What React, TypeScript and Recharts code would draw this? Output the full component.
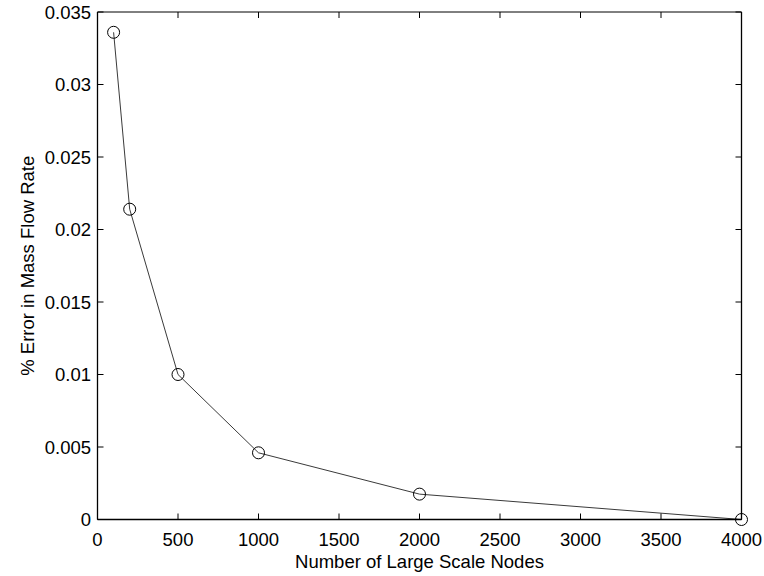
import { LineChart, Line, XAxis, YAxis } from 'recharts';

// grid sizes tested and the resulting mass flow error
const nodes = [100, 200, 500, 1000, 2000, 4000];
const errorPct = [0.0336, 0.0214, 0.01, 0.0046, 0.00175, 0];

const xTicks = [0, 500, 1000, 1500, 2000, 2500, 3000, 3500, 4000];
const yTicks = [0, 0.005, 0.01, 0.015, 0.02, 0.025, 0.03, 0.035];

const data = nodes.map((n, i) => ({ nodes: n, error: errorPct[i] }));

const FONT = '"Liberation Sans", Arial, sans-serif';
const FS = 18.5;
const TICK = 6;

// ticks point into the plot box, labels sit outside
const BottomTick = ({ x, y, payload }: any) => <g>
    <line x1={x} y1={y} x2={x} y2={y - TICK} stroke="#000" />
    <text x={x} y={y + 26.5} textAnchor="middle" fontSize={FS} fontFamily={FONT} fill="#000">{payload.value}</text>
  </g>;

const LeftTick = ({ x, y, payload }: any) => <g>
    <line x1={x} y1={y} x2={x + TICK} y2={y} stroke="#000" />
    <text x={x - 6.5} y={y + 6.5} textAnchor="end" fontSize={FS} fontFamily={FONT} fill="#000">{payload.value}</text>
  </g>;

const TopTick = ({ x, y }: any) => <line x1={x} y1={y} x2={x} y2={y + TICK} stroke="#000" />;

const RightTick = ({ x, y }: any) => <line x1={x} y1={y} x2={x - TICK} y2={y} stroke="#000" />;

const App = () => {
  return <div style={{ position: 'absolute', left: 0, top: 0, width: 764, height: 576, background: '#fff' }}>
      <LineChart width={764} height={576} data={data} margin={{ top: 11, right: 21.5, bottom: 0, left: 0 }}>
        <XAxis dataKey="nodes" type="number" domain={[0, 4000]} ticks={xTicks}
          height={56.5} tickSize={0} tickMargin={0} tick={<BottomTick />}
          axisLine={{ stroke: '#000', strokeWidth: 1.5 }}
          label={{
          content: ({ viewBox }: any) => <text x={viewBox.x + viewBox.width / 2} y={viewBox.y + 48.5} textAnchor="middle" fontSize={FS} fontFamily={FONT} fill="#000">
                Number of Large Scale Nodes
              </text>
        }} />
        {/* mirrored axes close the box on the top and right */}
        <XAxis xAxisId="top" dataKey="nodes" orientation="top" type="number" domain={[0, 4000]} ticks={xTicks}
          height={1} tickSize={0} tickMargin={0} tick={<TopTick />}
          axisLine={{ stroke: '#000', strokeWidth: 1 }} />
        <YAxis type="number" domain={[0, 0.035]} ticks={yTicks}
          width={97.5} tickSize={0} tickMargin={0} tick={<LeftTick />}
          axisLine={{ stroke: '#000', strokeWidth: 1.3 }}
          label={{
          content: () => <text x={33.5} y={265.75} transform="rotate(-90, 33.5, 265.75)" textAnchor="middle" fontSize={FS} fontFamily={FONT} fill="#000">
                % Error in Mass Flow Rate
              </text>
        }} />
        <YAxis yAxisId="right" orientation="right" type="number" domain={[0, 0.035]} ticks={yTicks}
          width={1} tickSize={0} tickMargin={0} tick={<RightTick />}
          axisLine={{ stroke: '#000', strokeWidth: 1.3 }} />
        <Line xAxisId="top" yAxisId="right" dataKey="error" stroke="none" dot={false}
          activeDot={false} legendType="none" isAnimationActive={false} />
        <Line dataKey="error" type="linear" stroke="#3a3a3a" strokeWidth={1}
          dot={{ r: 6, stroke: '#000', strokeWidth: 1, fill: 'none' }}
          activeDot={false} isAnimationActive={false} />
      </LineChart>
    </div>;
};

export default App;
